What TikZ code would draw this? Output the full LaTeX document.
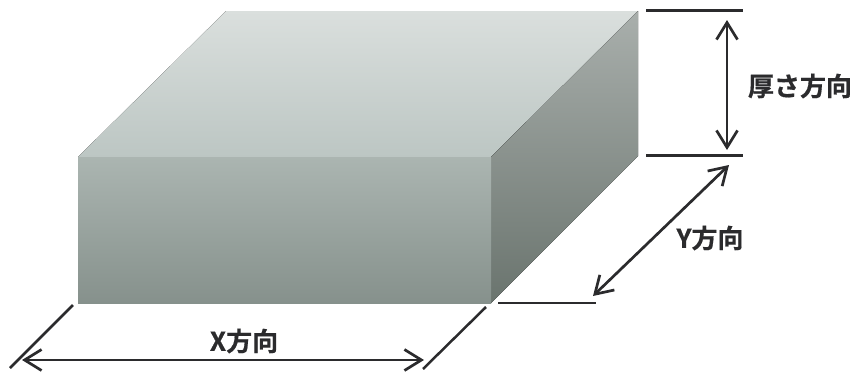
\documentclass[tikz,border=0pt]{standalone}
\usepackage{fontspec}
\setmainfont{Noto Sans CJK JP}[BoldFont={Noto Sans CJK JP Bold},BoldFeatures={FakeBold=0.6}]
\usetikzlibrary{arrows.meta}
\definecolor{ink}{HTML}{2B2B2D}
\tikzset{
  dimline/.style={draw=ink,line width=2.5pt},
  dimarrow/.style={dimline,line width=2.7pt,{Straight Barb[length=17pt,width=21pt,line width=2.7pt]}-{Straight Barb[length=17pt,width=21pt,line width=2.7pt]}},
  dimlabel/.style={font=\bfseries\fontsize{26}{28}\selectfont,text=ink,inner sep=0pt},
  facefront/.style={top color=front1,bottom color=front2,draw=none},
  facetop/.style={top color=top1,bottom color=top2,draw=none},
  faceside/.style={top color=side1,bottom color=side2,draw=none}
}
\definecolor{front1}{HTML}{ABB5B1}
\definecolor{front2}{HTML}{86918C}
\definecolor{top1}{HTML}{DADFDD}
\definecolor{top2}{HTML}{BCC6C3}
\definecolor{side1}{HTML}{A9AFAC}
\definecolor{side2}{HTML}{6A746E}
\begin{document}
\begin{tikzpicture}[x=1pt,y=-1pt]
\useasboundingbox (0,0) rectangle (855,373);
\coordinate (a) at (78,157);
\coordinate (b) at (491,157);
\coordinate (c) at (491,303);
\coordinate (d) at (78,303);
\coordinate (e) at (226,11);
\coordinate (f) at (638,11);
\coordinate (g) at (638,156);
\fill[facetop] (a) -- (e) -- (f) -- (b) -- cycle;
\fill[faceside] (b) -- (f) -- (g) -- (c) -- cycle;
\fill[facefront] (a) -- (b) -- (c) -- (d) -- cycle;
% thickness
\coordinate (t1) at (646,10.5); \coordinate (t2) at (743,10.5);
\coordinate (t3) at (646,155.5); \coordinate (t4) at (743,155.5);
\coordinate (t5) at (727,20); \coordinate (t6) at (727,150);
\draw[dimline] (t1) -- (t2);
\draw[dimline] (t3) -- (t4);
\draw[dimarrow] (t5) -- (t6);
\node[dimlabel] (tl) at (800,86) {厚さ方向};
% Y
\coordinate (y1) at (498,303); \coordinate (y2) at (596,303);
\coordinate (y3) at (593,296); \coordinate (y4) at (729,165);
\draw[dimline] (y1) -- (y2);
\draw[dimarrow] (y3) -- (y4);
\node[dimlabel] (yl) at (710,238) {Y方向};
% X
\coordinate (x1) at (10,368); \coordinate (x2) at (73,305);
\coordinate (x3) at (423,369); \coordinate (x4) at (486,307);
\coordinate (x5) at (22,360); \coordinate (x6) at (424,360);
\draw[dimline] (x1) -- (x2);
\draw[dimline] (x3) -- (x4);
\draw[dimarrow] (x5) -- (x6);
\node[dimlabel] (xl) at (244,341) {X方向};
\end{tikzpicture}
\end{document}
